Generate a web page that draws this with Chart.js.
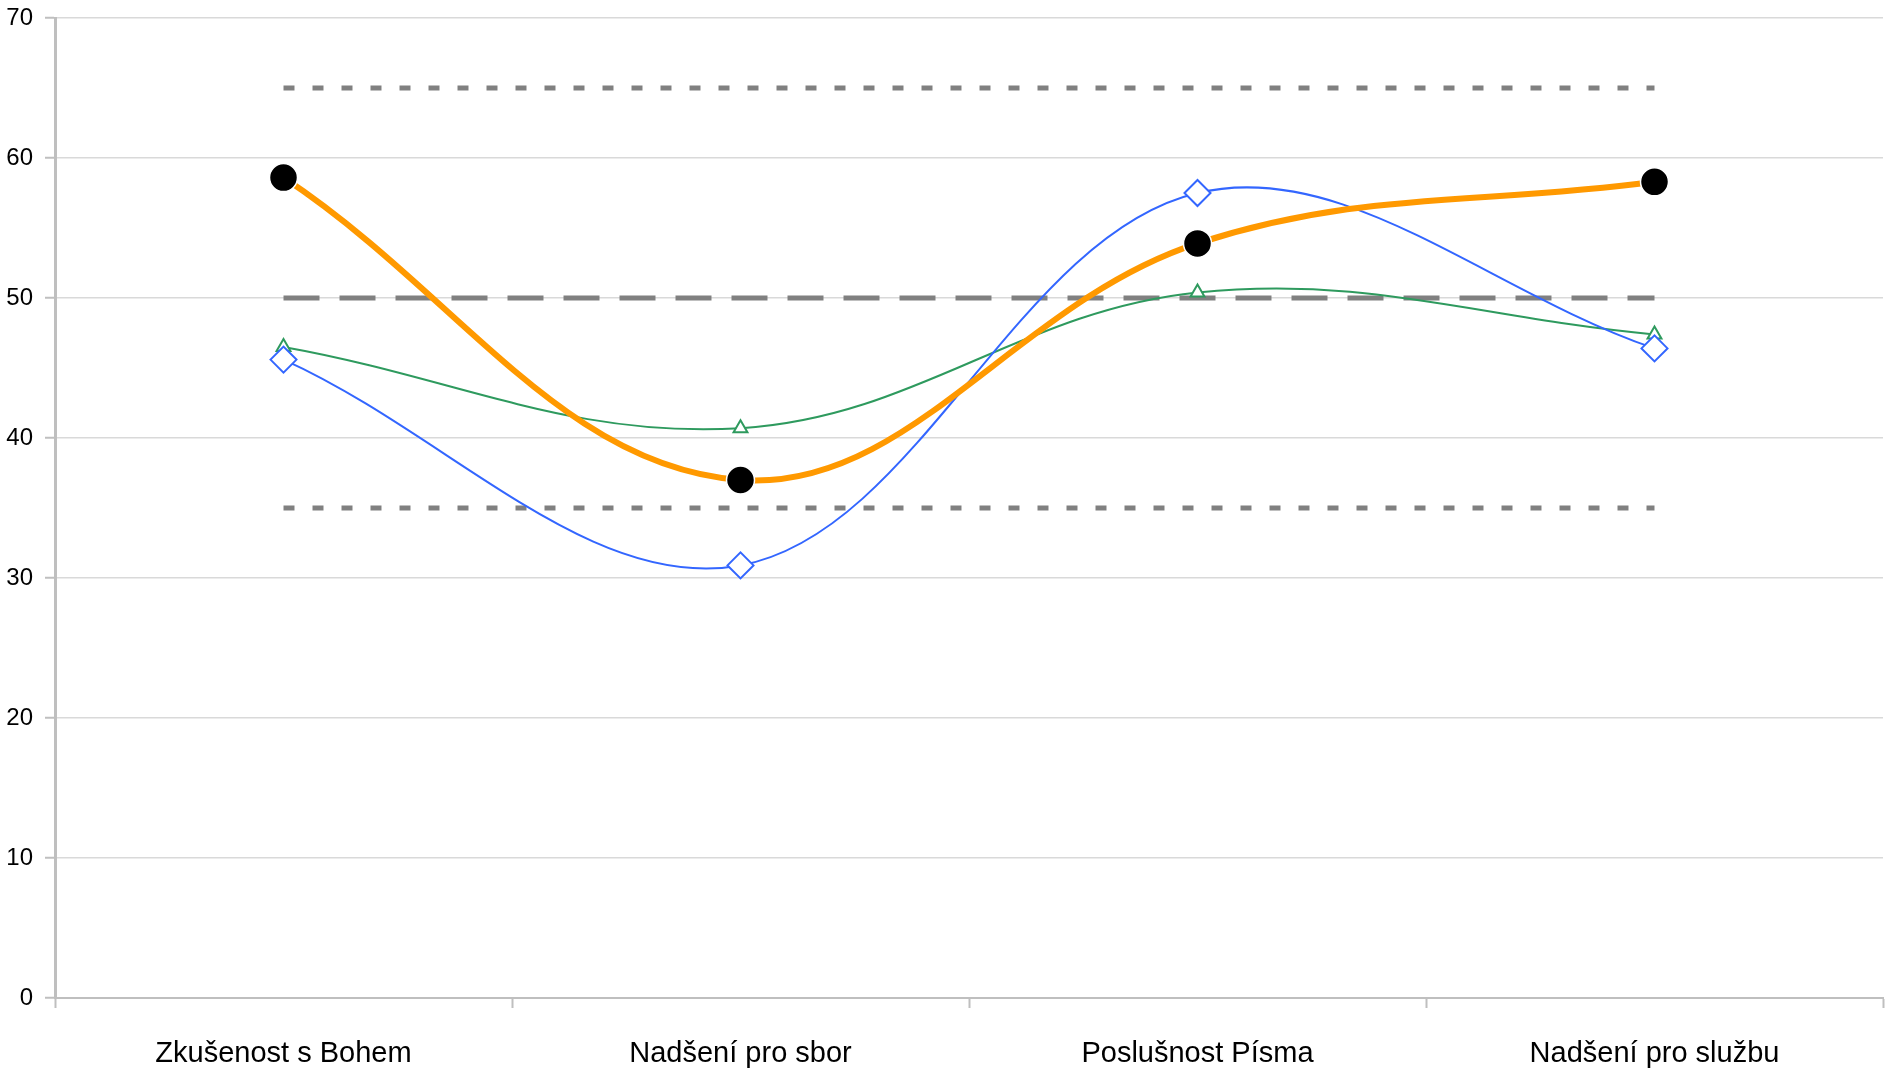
<!DOCTYPE html>
<html lang="cs">
	<head>
		<meta charset="UTF-8" />
		<title>Graf</title>
		<style>
			html, body { margin: 0; padding: 0; background: #fff; }
			.box { width: 1889px; height: 1075px; }
		</style>
	</head>
	<body>
		<div class="box"><canvas id="myChart" width="1889" height="1075"></canvas></div>
		<script src="https://cdn.jsdelivr.net/npm/chart.js"></script>
		<script>
			const categories = ["Zkušenost s Bohem", "Nadšení pro sbor", "Poslušnost Písma", "Nadšení pro službu"];
			const orangeValues = [58.6, 37.0, 53.9, 58.3];
			const blueValues = [45.6, 30.9, 57.5, 46.4];
			const greenValues = [46.5, 40.7, 50.4, 47.4];
			const upperRef = [65, 65, 65, 65];
			const midRef = [50, 50, 50, 50];
			const lowerRef = [35, 35, 35, 35];
			const yTicks = [0, 10, 20, 30, 40, 50, 60, 70];

			const fontFamily = "'Liberation Sans', Arial, sans-serif";

			const refLine = (data, dash) => ({
				data: data,
				borderColor: "#808080",
				borderWidth: 5,
				borderDash: dash,
				pointRadius: 0,
				tension: 0,
				order: 5
			});

			const ctx = document.getElementById("myChart").getContext("2d");
			new Chart(ctx, {
				type: "line",
				data: {
					labels: categories,
					datasets: [
						{
							data: orangeValues,
							borderColor: "#ff9900",
							borderWidth: 6,
							pointStyle: "circle",
							pointRadius: 14,
							pointBackgroundColor: "#000",
							pointBorderColor: "#fff",
							pointBorderWidth: 1.5,
							tension: 0.38,
							order: 0
						},
						{
							data: blueValues,
							borderColor: "#3366ff",
							borderWidth: 2,
							pointStyle: "rectRot",
							pointRadius: 13,
							pointBackgroundColor: "#fff",
							pointBorderColor: "#3366ff",
							pointBorderWidth: 2,
							tension: 0.36,
							order: 1
						},
						{
							data: greenValues,
							borderColor: "#2e9a5e",
							borderWidth: 2,
							pointStyle: "triangle",
							pointRadius: 8,
							pointBackgroundColor: "#fff",
							pointBorderColor: "#2e9a5e",
							pointBorderWidth: 2,
							tension: 0.38,
							order: 2
						},
						refLine(upperRef, [11, 18]),
						refLine(midRef, [36, 20]),
						refLine(lowerRef, [11, 18])
					]
				},
				options: {
					responsive: false,
					animation: false,
					layout: { autoPadding: false, padding: { top: 18, right: 6, left: 0, bottom: 0 } },
					plugins: {
						legend: { display: false },
						tooltip: { enabled: false }
					},
					scales: {
						x: {
							type: "category",
							offset: true,
							grid: {
								offset: true,
								drawOnChartArea: false,
								drawTicks: true,
								tickLength: 10,
								tickColor: "#bfbfbf",
								tickWidth: 2
							},
							border: { display: true, color: "#bfbfbf", width: 2 },
							ticks: {
								color: "#000",
								padding: 29,
								maxRotation: 0,
								font: { family: fontFamily, size: 29 }
							},
							afterFit: (scale) => {
								scale.height = 77;
								scale.paddingLeft = 0;
								scale.paddingRight = 0;
							}
						},
						y: {
							min: 0,
							max: 70,
							afterBuildTicks: (scale) => {
								scale.ticks = yTicks.map((v) => ({ value: v }));
							},
							grid: {
								color: "#d9d9d9",
								lineWidth: 1.5,
								drawTicks: true,
								tickLength: 10,
								tickColor: "#bfbfbf",
								tickWidth: 2
							},
							border: { display: true, color: "#bfbfbf", width: 3 },
							ticks: {
								color: "#000",
								padding: 12,
								font: { family: fontFamily, size: 24 }
							},
							afterFit: (scale) => {
								scale.width = 55;
								scale.paddingTop = 0;
								scale.paddingBottom = 0;
							}
						}
					}
				}
			});
		</script>
	</body>
</html>
